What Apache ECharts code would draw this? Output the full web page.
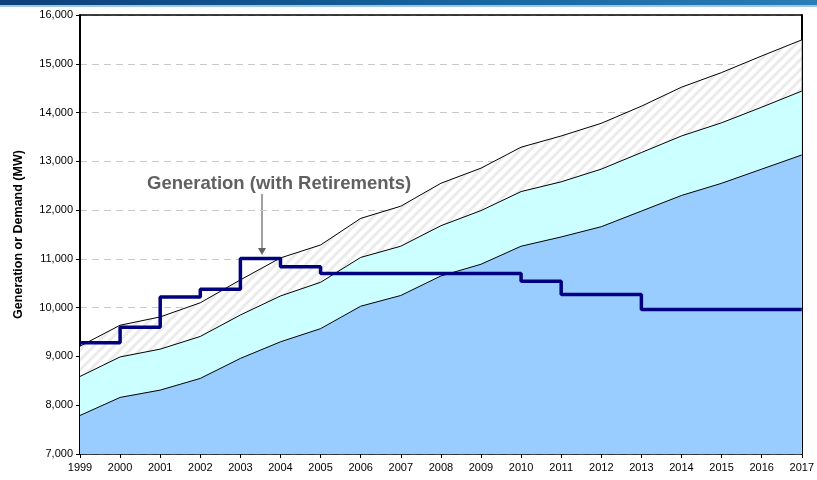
<!DOCTYPE html>
<html>
<head>
<meta charset="utf-8">
<script src="https://cdn.jsdelivr.net/npm/echarts@6/dist/echarts.min.js"></script>
<style>
  html, body { margin: 0; padding: 0; background: #fff; }
  #chart { width: 817px; height: 480px; }
</style>
</head>
<body>
<div id="chart"></div>
<script>
// years on the x axis
var years = ['1999', '2000', '2001', '2002', '2003', '2004', '2005', '2006', '2007', '2008',
  '2009', '2010', '2011', '2012', '2013', '2014', '2015', '2016', '2017']
// demand (blue area)
var demand = [7790, 8160, 8310, 8550, 8960, 9300, 9570, 10030, 10250, 10650,
  10890, 11260, 11450, 11660, 11980, 12300, 12550, 12840, 13130]
// middle band (cyan)
var middle = [8590, 8990, 9150, 9410, 9850, 10240, 10520, 11030, 11260, 11680,
  11990, 12380, 12580, 12840, 13180, 13520, 13790, 14110, 14440]
// upper band (hatched)
var upper = [9210, 9640, 9810, 10100, 10570, 11020, 11285, 11830, 12080, 12550,
  12860, 13290, 13520, 13780, 14130, 14520, 14820, 15160, 15490]
// generation with retirements, level held from each year to the next
var generation = [9280, 9600, 10220, 10380, 11010, 10840, 10700, 10700, 10700, 10700,
  10700, 10540, 10270, 10270, 9960, 9960, 9960, 9960, 9960]

// light diagonal hatch for the upper band
function hatch() {
  var c = document.createElement('canvas')
  c.width = 10
  c.height = 10
  var ctx = c.getContext('2d')
  ctx.fillStyle = '#ffffff'
  ctx.fillRect(0, 0, 10, 10)
  ctx.strokeStyle = '#ebebeb'
  ctx.lineWidth = 3
  ctx.beginPath()
  ctx.moveTo(-5, 5); ctx.lineTo(5, -5)
  ctx.moveTo(0, 10); ctx.lineTo(10, 0)
  ctx.moveTo(5, 15); ctx.lineTo(15, 5)
  ctx.stroke()
  return c
}

var myChart = echarts.init(document.getElementById('chart'))
var font = 'Liberation Sans, Arial, sans-serif'

function band(data, fill) {
  return {
    type: 'line',
    data: data,
    symbol: 'none',
    silent: true,
    lineStyle: { color: '#000', width: 1 },
    areaStyle: { color: fill, opacity: 1 }
  }
}

var option = {
  animation: false,
  textStyle: { fontFamily: font },
  grid: {
    left: 80,
    right: 14,
    top: 15,
    bottom: 26
  },
  xAxis: [
    {
      type: 'category',
      data: years,
      boundaryGap: false,
      axisLine: { lineStyle: { color: '#000', width: 1.5 } },
      axisTick: { show: true, interval: 0, length: 4, lineStyle: { color: '#000' } },
      axisLabel: { interval: 0, color: '#000', fontSize: 11, margin: 8, fontFamily: font }
    },
    {
      // top frame
      type: 'category',
      data: years,
      boundaryGap: false,
      position: 'top',
      axisLine: { lineStyle: { color: '#000', width: 1.5 } },
      axisTick: { show: false },
      axisLabel: { show: false }
    }
  ],
  yAxis: [
    {
      type: 'value',
      min: 7000,
      max: 16000,
      interval: 1000,
      name: 'Generation or Demand (MW)',
      nameLocation: 'middle',
      nameGap: 55,
      nameTextStyle: { fontWeight: 'bold', fontSize: 12.5, color: '#000', fontFamily: font },
      axisLine: { show: true, lineStyle: { color: '#000', width: 2 } },
      axisTick: { show: true, length: 4, lineStyle: { color: '#000' } },
      axisLabel: {
        color: '#000',
        fontSize: 11,
        margin: 7,
        fontFamily: font,
        formatter: function(v) { return v.toLocaleString('en-US') }
      },
      splitLine: { lineStyle: { color: '#c8c8c8', type: [7, 5], width: 1 } }
    },
    {
      // right frame
      type: 'value',
      min: 7000,
      max: 16000,
      interval: 1000,
      position: 'right',
      axisLine: { show: true, lineStyle: { color: '#000', width: 2 } },
      axisTick: { show: false },
      axisLabel: { show: false },
      splitLine: { show: false }
    }
  ],
  series: [
    band(upper, { image: hatch(), repeat: 'repeat' }),
    band(middle, '#ccffff'),
    band(demand, '#99ccff'),
    {
      type: 'line',
      data: generation,
      step: 'end',
      symbol: 'none',
      lineStyle: { color: '#000080', width: 3.5 },
      z: 5
    }
  ],
  graphic: [
    {
      type: 'rect',
      shape: { x: 0, y: 0, width: 817, height: 5 },
      style: {
        fill: new echarts.graphic.LinearGradient(0, 0, 1, 0, [
          { offset: 0, color: '#0d3f7a' },
          { offset: 0.5, color: '#14609a' },
          { offset: 1, color: '#2a7db5' }
        ])
      }
    },
    {
      type: 'rect',
      shape: { x: 0, y: 5, width: 817, height: 2 },
      style: { fill: '#9cc6e4' }
    },
    {
      type: 'text',
      left: 147,
      top: 174,
      style: {
        text: 'Generation (with Retirements)',
        fill: '#606060',
        font: 'bold 18.5px ' + font
      }
    },
    {
      type: 'line',
      shape: { x1: 262, y1: 194, x2: 262, y2: 250 },
      style: { stroke: '#808080', lineWidth: 1.5 }
    },
    {
      type: 'polygon',
      shape: { points: [[258, 248], [266, 248], [262, 255]] },
      style: { fill: '#606060' }
    }
  ]
}
myChart.setOption(option)
</script>
</body>
</html>
